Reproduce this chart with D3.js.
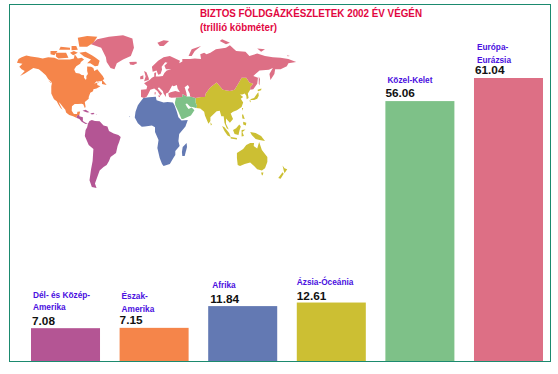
<!DOCTYPE html>
<html>
<head>
<meta charset="utf-8">
<script src="https://cdn.jsdelivr.net/npm/d3@7"></script>
<style>
  html, body { margin: 0; background: #fff; }
  svg { display: block; }
  text { font-family: "Liberation Sans", Arial, sans-serif; font-weight: bold; }
  .title { fill: #e2063f; font-size: 11px; }
  .label { fill: #4a0fe0; font-size: 9px; }
  .value { fill: #111; font-size: 11.8px; }
</style>
</head>
<body>
<div id="root"></div>
<script>
// Values, trillion cubic metres, end of 2002
const categories = ['Dél- és Közép-Amerika', 'Észak-Amerika', 'Afrika', 'Ázsia-Óceánia', 'Közel-Kelet', 'Európa-Eurázsia']
const values = [7.08, 7.15, 11.84, 12.61, 56.06, 61.04]
const labelLines = [['Dél- és Közép-', 'Amerika'], ['Észak-', 'Amerika'], ['Afrika'], ['Ázsia-Óceánia'], ['Közel-Kelet'], ['Európa-', 'Eurázsia']]
const colors = ['#b45594', '#f5854a', '#6379b3', '#ccbf33', '#7ec188', '#dd6f85']

// Map outlines as [lon, lat], one list per region
const southAmerica = [
  [[-77, 8], [-75, 11], [-72, 12], [-68, 11], [-62, 10.5], [-57, 6], [-52, 5], [-50, 0], [-44, -2.5], [-38, -4], [-35, -6], [-37, -11], [-39, -15], [-41, -22], [-48, -26], [-50, -30], [-53, -34], [-57, -36], [-62, -39], [-65, -45], [-68, -51], [-66, -55], [-72, -54], [-75, -48], [-73, -38], [-71, -30], [-70, -18], [-76, -14], [-81, -5], [-80, 1], [-78, 4]],
  [[-92, 14.5], [-90.5, 17.5], [-88, 17.5], [-88, 16], [-83.5, 15], [-83.5, 11], [-80, 9], [-77, 8.5], [-80, 7.5], [-85, 10], [-88, 13]],
  [[-84, 22], [-80, 23], [-75, 20.3], [-78, 20]],
  [[-74, 19], [-70, 19.8], [-68.5, 18.5], [-72, 18]],
  [[-67, 18.4], [-65.7, 18.4], [-66, 17.9]]
]
const northAmerica = [
  [[-168, 65.5], [-166, 68.5], [-162, 70], [-156, 71.3], [-150, 70.5], [-141, 69.7], [-135, 69], [-128, 70], [-120, 69.5], [-115, 68], [-108, 68], [-100, 68], [-95, 69], [-94, 72], [-90, 69], [-85, 69.5], [-82, 68], [-86, 66], [-87, 64.5], [-92, 62.5], [-94.5, 60], [-94, 58.7], [-92.5, 57], [-88, 56.5], [-85, 55.3], [-82, 55], [-82, 53], [-80, 51.3], [-79, 52], [-79, 54.5], [-77, 56], [-78, 58.5], [-78, 62.3], [-73, 62], [-70, 61], [-69, 58.5], [-65, 60], [-62, 57.5], [-58, 54.5], [-56, 52], [-60, 50], [-66, 50], [-69, 48], [-65, 49], [-65, 47], [-61, 46], [-66, 44], [-70, 43.5], [-70.5, 41.7], [-74, 40.5], [-76, 37], [-76, 35], [-81, 31.5], [-80, 26], [-81, 25], [-83, 29], [-85, 29.7], [-90, 29.5], [-94, 29.5], [-97.5, 27], [-97.8, 22], [-95, 18.5], [-91, 18.5], [-90.5, 21], [-87, 21.3], [-88, 17.5], [-90.5, 17.5], [-92, 14.5], [-96, 16], [-101, 17.5], [-105, 20], [-106, 23], [-109, 26], [-112.5, 30], [-114.5, 31.5], [-112, 27], [-109.5, 23], [-112, 25], [-115, 29], [-117, 32.5], [-120.5, 34.5], [-124, 40], [-124, 46], [-123, 49], [-128, 52], [-131, 55], [-136, 58], [-140, 60], [-147, 61], [-152, 59], [-158, 56.5], [-164, 54.5], [-158, 58.5], [-162, 60], [-165, 62], [-161, 64.5]],
  [[-80, 73.5], [-72, 71.5], [-68, 70], [-62, 67], [-64, 63], [-68, 62.5], [-74, 65], [-78, 65], [-73, 68], [-82, 70.5], [-88, 73]],
  [[-118, 73], [-105, 73], [-102, 69.5], [-115, 69], [-118, 70.5]],
  [[-125, 74], [-116, 74], [-120, 71.5], [-125, 72]],
  [[-90, 82], [-78, 83], [-65, 82.5], [-70, 79], [-78, 76.5], [-88, 76.5]],
  [[-98, 77], [-92, 77], [-90, 74.7], [-98, 74.5]],
  [[-112, 76.5], [-100, 76], [-100, 74.7], [-114, 74.7]],
  [[-95, 74], [-90, 73], [-96, 71.5], [-100, 73]],
  [[-59, 51.5], [-53, 47], [-59, 47.7]],
  [[-66, 50], [-62, 49.5], [-64, 49]],
  [[-128, 50.7], [-124, 48.5], [-123.5, 49]]
]
const africa = [
  [[-6, 35.8], [1, 36.8], [10, 37.3], [11, 33.5], [15, 32.3], [20, 31], [25, 31.5], [32, 31], [34, 28], [37, 21], [39, 15], [43, 11.5], [51, 12], [48, 5], [40, -3], [39, -10], [40.5, -15], [35, -20], [35, -24], [32.5, -27], [28, -33], [20, -35], [18, -33], [15, -27], [12, -17], [13.5, -9], [9, -1], [9, 4], [5, 6], [-4, 5], [-8, 4.5], [-13, 8.5], [-17, 14.7], [-16, 21], [-13, 28], [-9.5, 32]],
  [[49.5, -12], [50, -16], [47, -25], [44, -25], [43.5, -21], [44.5, -16]],
  [[-24, 16], [-23, 16], [-23.5, 15]]
]
const asiaOceania = [
  [[61, 36], [68, 37], [73, 37], [74, 40], [80, 45], [88, 49], [96, 43], [105, 42], [111, 43], [117, 49.5], [120, 53], [126, 53], [130, 49], [135, 48], [131, 45], [131, 43], [128, 40], [129, 36], [126.5, 34.5], [126, 38], [124, 40], [121, 39], [118, 39], [122, 37], [119, 35], [122, 31], [120, 26], [114, 22.5], [109, 21], [106, 19], [109, 13], [105, 9], [100, 13.5], [100, 8], [103.5, 1.5], [101, 3], [98, 9], [97, 16], [94, 16], [92, 22], [88, 21.5], [80, 15], [80, 11], [77.5, 8], [73, 17], [72, 21], [67, 24.5], [61.5, 25], [63, 27], [61, 31]],
  [[114, -22], [122, -18], [126, -14], [131, -12], [136, -12], [135.5, -15], [140, -17.5], [142.5, -11], [146, -19], [153, -26], [153, -31], [150, -37], [146, -39], [140, -38], [136, -35], [131, -31.5], [124, -33], [118, -35], [115, -34], [114, -27]],
  [[145, -41], [148, -41], [147, -43.5], [146, -43.5]],
  [[95, 5.5], [98, 4], [104, -2], [106, -6], [102, -4.5], [98, 0]],
  [[106, -6], [114, -7], [114, -8.5], [106, -7.5]],
  [[109, 1], [113, 3], [117, 7], [119, 5], [117.5, 1], [116, -4], [111, -3]],
  [[120, 1], [125, 1.5], [121, -1], [123, -5], [120, -5.5]],
  [[131, -1], [138, -2], [145, -5], [150, -10], [143, -9], [138, -8], [133, -4]],
  [[120.5, 18], [122, 18], [124, 13], [121, 13.5]],
  [[122, 10], [126, 9], [125.5, 6], [122, 7]],
  [[120.5, 25], [122, 25], [120.8, 22]],
  [[80, 9.5], [82, 7], [80.5, 6]],
  [[130, 33.5], [132, 33], [131, 31]],
  [[131, 34.5], [136, 36], [140, 40], [141.5, 41], [142, 38], [140, 35], [136, 33.7], [132, 33.7]],
  [[140.5, 43], [145.5, 44], [145, 42.5], [141, 41.8]],
  [[172.5, -34.5], [175, -37], [178.5, -38], [175, -41.5], [174, -39]],
  [[172.5, -40.7], [174, -42], [170, -46.5], [167, -46]]
]
const middleEast = [
  [[36, 36.5], [44, 37], [44, 39.5], [48, 38], [50, 37.5], [54, 37.5], [61, 36], [61, 31], [63, 27], [61.5, 25], [57, 26], [54, 26.5], [50, 30], [48, 29.5], [50, 26], [52, 24], [56, 25.5], [59.5, 22.5], [55, 17], [45, 13], [43, 13], [39, 21], [35, 28], [34.5, 31]]
]
const eurasia = [
  [[-9, 37], [-9, 43], [-2, 43.5], [-1, 46], [-5, 48.5], [2, 51], [5, 53], [8, 54], [8, 57], [10.5, 57.5], [10, 54], [14, 54], [19, 54.5], [21, 57], [24, 59], [30, 60], [23, 60], [21, 63], [25, 65.5], [22, 65.8], [17.5, 62], [18, 59.5], [16, 56], [13, 55.5], [11, 59], [6, 58], [5, 62], [13, 67], [20, 70], [28, 71], [41, 67], [40, 65], [44, 66.5], [44, 68.5], [54, 68.5], [60, 69], [68, 68.5], [67, 72], [72, 73], [75, 72], [80, 73], [87, 75], [100, 76], [105, 77.5], [113, 74], [125, 73.5], [130, 71], [140, 72.5], [150, 71], [160, 70], [170, 69.5], [180, 68.5], [190, 66], [180, 65], [178, 62.5], [170, 60], [163, 60], [162, 56], [157, 51], [155.7, 56], [160, 61], [155, 59.5], [143, 59], [135, 54.5], [141, 53], [140, 48], [135, 43.5], [131, 43], [131, 45], [135, 48], [130, 49], [126, 53], [120, 53], [117, 49.5], [111, 43], [105, 42], [96, 43], [88, 49], [80, 45], [74, 40], [73, 37], [68, 37], [61, 36], [54, 37.5], [53.5, 40], [51, 43], [53, 45], [51, 47], [47, 45], [49, 41], [50, 37.5], [48, 38], [44, 39.5], [44, 37], [36, 36.5], [30, 36.2], [27, 37], [26, 40], [29, 41], [35, 42], [41, 41], [38, 44], [37, 47], [33, 46], [31, 46.5], [28, 43], [26, 40.7], [23, 40], [23, 37], [20, 40], [19, 42], [14, 45], [12.5, 44], [18, 40], [16, 38], [12, 42], [8, 44], [3, 43], [0, 39], [-2, 37], [-5, 36]],
  [[-73, 78], [-65, 81], [-50, 82.5], [-32, 83.5], [-20, 81.5], [-18, 76], [-22, 71], [-32, 68], [-40, 65], [-43, 60], [-48, 61], [-53, 66], [-54, 70], [-60, 76]],
  [[-24, 66], [-15, 66.3], [-14, 65], [-19, 63.5], [-23, 64]],
  [[-5, 58.5], [-2, 57.5], [1, 52.5], [1, 51], [-5, 50], [-3, 54]],
  [[-10, 54], [-6, 55], [-6, 52], [-10, 51.7]],
  [[12, 79], [20, 80.5], [27, 80], [20, 77], [15, 77]],
  [[52, 71], [56, 75], [68, 77], [60, 74], [56, 71]],
  [[95, 81], [105, 79], [100, 78], [92, 80]],
  [[142, 54], [143.5, 52], [143, 46.5], [142, 48]],
  [[140, 75.5], [150, 75], [145, 73.5]],
  [[178, 71.5], [182, 71], [179, 70.8]],
  [[8.5, 41], [10, 41], [9.5, 39], [8.5, 39]],
  [[12.5, 38], [15.5, 38.2], [15, 36.7]]
]
const mapRegions = [southAmerica, northAmerica, africa, asiaOceania, middleEast, eurasia]

const chartWidth = 558
const chartHeight = 374
const frame = { left: 9.5, top: 4.5, right: 550.5, bottom: 361.5 }
const baseline = 361

const svg = d3.select('#root').append('svg')
  .attr('width', chartWidth)
  .attr('height', chartHeight)
  .attr('viewBox', `0 0 ${chartWidth} ${chartHeight}`)

const xScale = d3.scaleBand()
  .domain(categories)
  .range([31, 543])
  .paddingInner(0.221)
  .paddingOuter(0)

const yScale = d3.scaleLinear()
  .domain([0, 61.04])
  .range([baseline, 78])

// Map placement, lat is stretched towards the pole like the source map
const lonScale = d3.scaleLinear().domain([0, 100]).range([148, 226])
const latScale = d3.scaleLinear()
  .domain([-55, -35, 0, 37, 71, 83])
  .range([188, 166, 131, 97, 56, 36])

const ringPath = d3.line()
  .x(d => lonScale(d[0]))
  .y(d => latScale(d[1]))
  .curve(d3.curveLinearClosed)

mapRegions.forEach((rings, i) => {
  svg.append('g')
    .attr('fill', colors[i])
    .selectAll('path')
    .data(rings)
    .enter()
    .append('path')
    .attr('d', d => ringPath(d))
})

// Title
svg.append('text')
  .attr('class', 'title')
  .attr('x', 200)
  .attr('y', 17)
  .attr('textLength', 222)
  .attr('lengthAdjust', 'spacingAndGlyphs')
  .text('BIZTOS FÖLDGÁZKÉSZLETEK 2002 ÉV VÉGÉN')
svg.append('text')
  .attr('class', 'title')
  .attr('x', 200)
  .attr('y', 31)
  .attr('textLength', 77)
  .attr('lengthAdjust', 'spacingAndGlyphs')
  .text('(trillió köbméter)')

// Draw bars
svg.append('g')
  .selectAll('rect')
  .data(categories)
  .enter()
  .append('rect')
  .attr('x', d => xScale(d))
  .attr('y', (d, i) => yScale(values[i]))
  .attr('width', xScale.bandwidth())
  .attr('height', (d, i) => yScale(0) - yScale(values[i]))
  .attr('fill', (d, i) => colors[i])

// Frame
svg.append('rect')
  .attr('x', frame.left)
  .attr('y', frame.top)
  .attr('width', frame.right - frame.left)
  .attr('height', frame.bottom - frame.top)
  .attr('fill', 'none')
  .attr('stroke', '#1b8a6f')

// Hand placed labels in the source, so each has its own nudge from its bar
const valueNudge = [[1, 3], [0, 4], [2, 3], [0, 3], [0, 4], [1, 4]]
const labelNudge = [[2, 18], [2, 16], [4, 18], [0, 18], [2, 18], [3, 15.5]]
const lineGap = 12.5

svg.append('g')
  .selectAll('text')
  .data(categories)
  .enter()
  .append('text')
  .attr('class', 'value')
  .attr('x', d => xScale(d))
  .attr('y', (d, i) => yScale(values[i]) - valueNudge[i][1])
  .attr('dx', (d, i) => valueNudge[i][0])
  .text((d, i) => values[i].toFixed(2))

categories.forEach((c, i) => {
  const lines = labelLines[i]
  svg.append('g')
    .selectAll('text')
    .data(lines)
    .enter()
    .append('text')
    .attr('class', 'label')
    .attr('x', xScale(c) + labelNudge[i][0])
    .attr('y', (d, j) => yScale(values[i]) - labelNudge[i][1] - (lines.length - 1 - j) * lineGap)
    .text(d => d)
    .attr('textLength', function () { return this.getComputedTextLength() * 0.92 })
    .attr('lengthAdjust', 'spacingAndGlyphs')
})
</script>
</body>
</html>
